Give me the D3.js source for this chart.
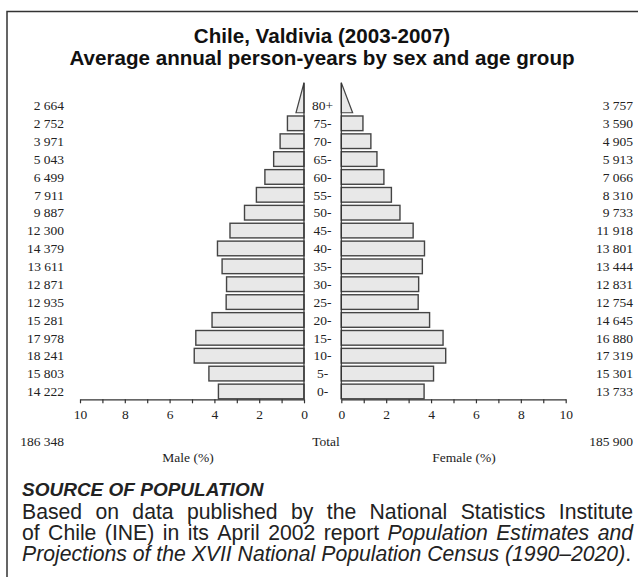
<!DOCTYPE html>
<html lang="en">
<head>
<meta charset="utf-8">
<script src="https://d3js.org/d3.v7.min.js"></script>
<style>
  body { margin: 0; background: #fff; }
  .num { font-family: "Liberation Serif", "Times New Roman", serif; font-size: 13.5px; fill: #222; }
  .axis path, .axis line { stroke: #333; stroke-width: 1.2px; fill: none; }
  .axis text { font-family: "Liberation Serif", serif; font-size: 13.5px; fill: #222; }
  .title { font-family: "Liberation Sans", Arial, sans-serif; font-weight: bold; font-size: 20.6px; fill: #111; }
  .body { font-family: "Liberation Sans", Arial, sans-serif; font-size: 21.2px; fill: #222; }
</style>
</head>
<body>
<svg id="chart" width="638" height="577"></svg>
<script>
// age groups, top to bottom
var ages = ["80+", "75-", "70-", "65-", "60-", "55-", "50-", "45-", "40-", "35-",
            "30-", "25-", "20-", "15-", "10-", "5-", "0-"];
var male = [2664, 2752, 3971, 5043, 6499, 7911, 9887, 12300, 14379, 13611,
            12871, 12935, 15281, 17978, 18241, 15803, 14222];
var female = [3757, 3590, 4905, 5913, 7066, 8310, 9733, 11918, 13801, 13444,
              12831, 12754, 14645, 16880, 17319, 15301, 13733];
var ticks = [0, 2, 4, 6, 8, 10];

var svg = d3.select("#chart");
var fmt = d3.formatLocale({decimal: ".", thousands: " ", grouping: [3], currency: ["", ""]}).format(",d");

var maleTotal = d3.sum(male), femaleTotal = d3.sum(female);
var grand = maleTotal + femaleTotal;

var axisY = 399.3;
var xm = d3.scaleLinear().domain([0, 10]).range([304, 80]);
var xf = d3.scaleLinear().domain([0, 10]).range([341.3, 565.7]);
var y = d3.scaleBand().domain(ages).range([96.5, 400.4]).paddingInner(0.18).paddingOuter(0.09);

// frame
svg.append("path").attr("d", "M7,577V11.5H638").attr("fill", "none")
  .attr("stroke", "#333").attr("stroke-width", 1.5);

// title
svg.append("text").attr("class", "title").attr("x", 322).attr("y", 42.5)
  .attr("text-anchor", "middle").text("Chile, Valdivia (2003-2007)");
svg.append("text").attr("class", "title").attr("x", 322).attr("y", 64.5)
  .attr("text-anchor", "middle").text("Average annual person-years by sex and age group");

function pct(v) { return v / grand * 100; }

function drawSide(vals, x) {
  var g = svg.append("g");
  vals.forEach(function(v, i) {
    var a = ages[i];
    var x0 = x(0), x1 = x(pct(v));
    if (a === "80+") {
      // open-ended group drawn as a triangle
      var xb = x(pct(v) / 2), yb = y(a) + y.bandwidth();
      g.append("path")
        .attr("d", "M" + x0 + "," + (yb - 30) + "L" + xb + "," + yb + "L" + x0 + "," + yb + "Z")
        .attr("fill", "#e8e8e8").attr("stroke", "#444").attr("stroke-width", 1.2);
    } else {
      g.append("rect")
        .attr("x", Math.min(x0, x1)).attr("y", y(a))
        .attr("width", Math.abs(x1 - x0)).attr("height", y.bandwidth())
        .attr("fill", "#e8e8e8").attr("stroke", "#444").attr("stroke-width", 1.4);
    }
  });
  // vertical axis line
  g.append("line").attr("x1", x(0)).attr("x2", x(0))
    .attr("y1", y("80+") + y.bandwidth() - 30).attr("y2", axisY)
    .attr("stroke", "#333").attr("stroke-width", 1.2);

  var ax = svg.append("g").attr("class", "axis")
    .attr("transform", "translate(0," + axisY + ")")
    .call(d3.axisBottom(x).tickValues(d3.range(0, 11)).tickSize(4).tickSizeOuter(0)
      .tickFormat(function(d) { return ticks.indexOf(d) >= 0 ? d : ""; }));
  ax.selectAll("text").attr("dy", "0.95em");
}

drawSide(male, xm);
drawSide(female, xf);

// count labels
svg.append("g").selectAll("text").data(male).enter().append("text")
  .attr("class", "num").attr("x", 64).attr("text-anchor", "end")
  .attr("y", function(d, i) { return y(ages[i]) + y.bandwidth() / 2; })
  .attr("dy", "0.35em").text(fmt);
svg.append("g").selectAll("text").data(female).enter().append("text")
  .attr("class", "num").attr("x", 633).attr("text-anchor", "end")
  .attr("y", function(d, i) { return y(ages[i]) + y.bandwidth() / 2; })
  .attr("dy", "0.35em").text(fmt);
svg.append("g").selectAll("text").data(ages).enter().append("text")
  .attr("class", "num").attr("x", 322.5).attr("text-anchor", "middle")
  .attr("y", function(d) { return y(d) + y.bandwidth() / 2; })
  .attr("dy", "0.35em").text(function(d) { return d; });

// totals
svg.append("text").attr("class", "num").attr("x", 64).attr("y", 446)
  .attr("text-anchor", "end").text(fmt(maleTotal));
svg.append("text").attr("class", "num").attr("x", 326).attr("y", 446)
  .attr("text-anchor", "middle").text("Total");
svg.append("text").attr("class", "num").attr("x", 633).attr("y", 446)
  .attr("text-anchor", "end").text(fmt(femaleTotal));
svg.append("text").attr("class", "num").attr("x", 188).attr("y", 462)
  .attr("text-anchor", "middle").text("Male (%)");
svg.append("text").attr("class", "num").attr("x", 464).attr("y", 462)
  .attr("text-anchor", "middle").text("Female (%)");

// source note
svg.append("text").attr("class", "body").attr("x", 22).attr("y", 495.5)
  .style("font-weight", "bold").style("font-style", "italic").style("font-size", "19px")
  .text("SOURCE OF POPULATION");

var lines = [
  {y: 518.5, justify: true, parts: [["Based on data published by the National Statistics Institute", false]]},
  {y: 539.5, justify: true, parts: [["of Chile (INE) in its April 2002 report", false], ["Population Estimates and", true]]},
  {y: 560.5, justify: false, parts: [["Projections of the XVII National Population Census (1990\u20132020)", true], [".", false, true]]}
];
var left = 22, right = 633;
lines.forEach(function(ln) {
  var words = [];
  ln.parts.forEach(function(p) {
    if (p[2]) { words.push({t: p[0], it: p[1], glue: true}); return; }
    p[0].split(" ").forEach(function(w) { words.push({t: w, it: p[1]}); });
  });
  var t = svg.append("g");
  var nodes = words.map(function(w) {
    return t.append("text").attr("class", "body").attr("y", ln.y)
      .style("font-style", w.it ? "italic" : "normal").text(w.t);
  });
  var widths = nodes.map(function(n) { return n.node().getComputedTextLength(); });
  var space = 5.9;
  var gaps = words.filter(function(w, i) { return i > 0 && !w.glue; }).length;
  if (ln.justify) space = (right - left - d3.sum(widths)) / gaps;
  var cx = left;
  nodes.forEach(function(n, i) {
    if (i > 0 && !words[i].glue) cx += space;
    n.attr("x", cx);
    cx += widths[i];
  });
});
</script>
</body>
</html>
